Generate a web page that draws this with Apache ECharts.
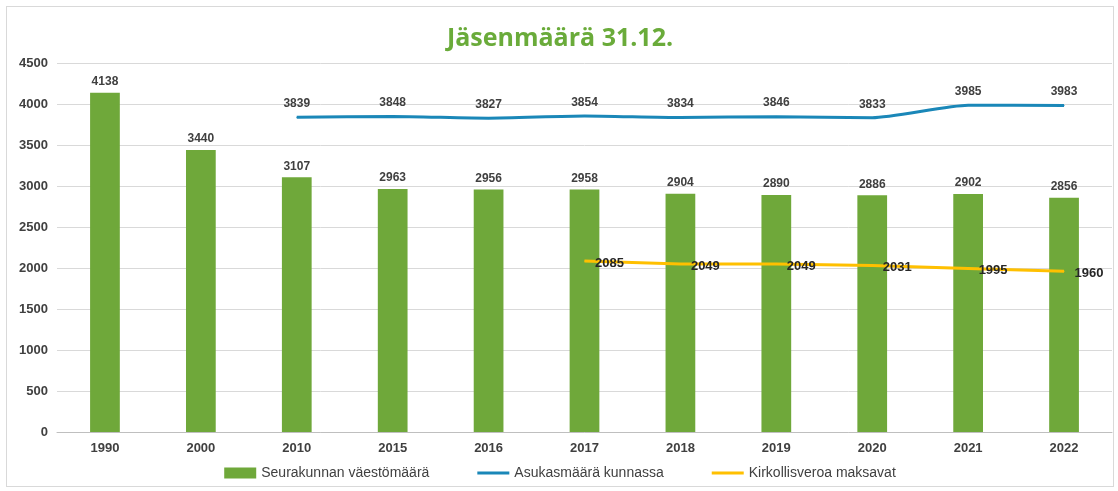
<!DOCTYPE html>
<html>
<head>
<meta charset="UTF-8">
<title>Jäsenmäärä</title>
<style>
  * { margin: 0; padding: 0; }
  body { background: #fff; }
  #chart {
    position: absolute;
    left: 6px; top: 6px;
    width: 1106px; height: 479px;
    border: 1px solid #d9d9d9;
  }
</style>
</head>
<body>
<div id="chart"></div>
<script src="https://cdn.jsdelivr.net/npm/echarts@6/dist/echarts.min.js"></script>
<script>
var years = ['1990', '2000', '2010', '2015', '2016', '2017', '2018', '2019', '2020', '2021', '2022'];
var seurakunta = [4138, 3440, 3107, 2963, 2956, 2958, 2904, 2890, 2886, 2902, 2856];
var asukkaat = ['-', '-', 3839, 3848, 3827, 3854, 3834, 3846, 3833, 3985, 3983];
var veronmaksajat = ['-', '-', '-', '-', '-', 2085, 2049, 2049, 2031, 1995, 1960];

var lineIcon = 'path://M0,0 L30,0 L30,3 L0,3 Z';

var chart = echarts.init(document.getElementById('chart'));
var option = {
  animation: false,
  title: {
    text: 'Jäsenmäärä 31.12.',
    left: 'center',
    top: 14,
    textStyle: { color: '#6aab3a', fontSize: 25, fontWeight: 'bold', fontFamily: 'Open Sans' }
  },
  legend: {
    bottom: 1,
    itemGap: 48,
    itemWidth: 32,
    itemHeight: 11,
    textStyle: { color: '#404040', fontSize: 14, fontFamily: 'Liberation Sans' },
    data: [
      { name: 'Seurakunnan väestömäärä', icon: 'rect' },
      { name: 'Asukasmäärä kunnassa', icon: lineIcon, itemStyle: { color: '#1a87b8' } },
      { name: 'Kirkollisveroa maksavat', icon: lineIcon, itemStyle: { color: '#ffc000' } }
    ]
  },
  grid: { left: 50, right: 1, top: 56, bottom: 54 },
  xAxis: {
    type: 'category',
    data: years,
    axisTick: { show: false },
    axisLine: { lineStyle: { color: '#bfbfbf' } },
    axisLabel: { color: '#404040', fontWeight: 'bold', fontSize: 13, margin: 10, fontFamily: 'Liberation Sans' }
  },
  yAxis: {
    type: 'value',
    min: 0, max: 4500, interval: 500,
    axisLabel: {
      color: '#404040', fontWeight: 'bold', fontSize: 13, margin: 9, fontFamily: 'Liberation Sans',
      formatter: function (v) { return String(v); }
    },
    splitLine: { lineStyle: { color: '#d9d9d9' } }
  },
  series: [
    {
      name: 'Seurakunnan väestömäärä',
      type: 'bar',
      data: seurakunta,
      barWidth: '31%',
      itemStyle: { color: '#6fa83a' },
      label: {
        show: true, position: 'top', distance: 5,
        color: '#404040', fontWeight: 'bold', fontSize: 12, fontFamily: 'Liberation Sans'
      }
    },
    {
      name: 'Asukasmäärä kunnassa',
      type: 'line',
      data: asukkaat,
      symbol: 'circle',
      symbolSize: 1,
      showSymbol: true,
      smooth: 0.2,
      lineStyle: { color: '#1a87b8', width: 3 },
      itemStyle: { color: '#1a87b8' },
      label: {
        show: true, position: 'top', distance: 7,
        color: '#404040', fontWeight: 'bold', fontSize: 12, fontFamily: 'Liberation Sans'
      }
    },
    {
      name: 'Kirkollisveroa maksavat',
      type: 'line',
      data: veronmaksajat,
      symbol: 'circle',
      symbolSize: 1,
      showSymbol: true,
      lineStyle: { color: '#ffc000', width: 3 },
      itemStyle: { color: '#ffc000' },
      label: {
        show: true, position: 'right', distance: 10, offset: [0, 2],
        color: '#262626', fontWeight: 'bold', fontSize: 13, fontFamily: 'Liberation Sans'
      }
    }
  ]
};
chart.setOption(option);
</script>
</body>
</html>
